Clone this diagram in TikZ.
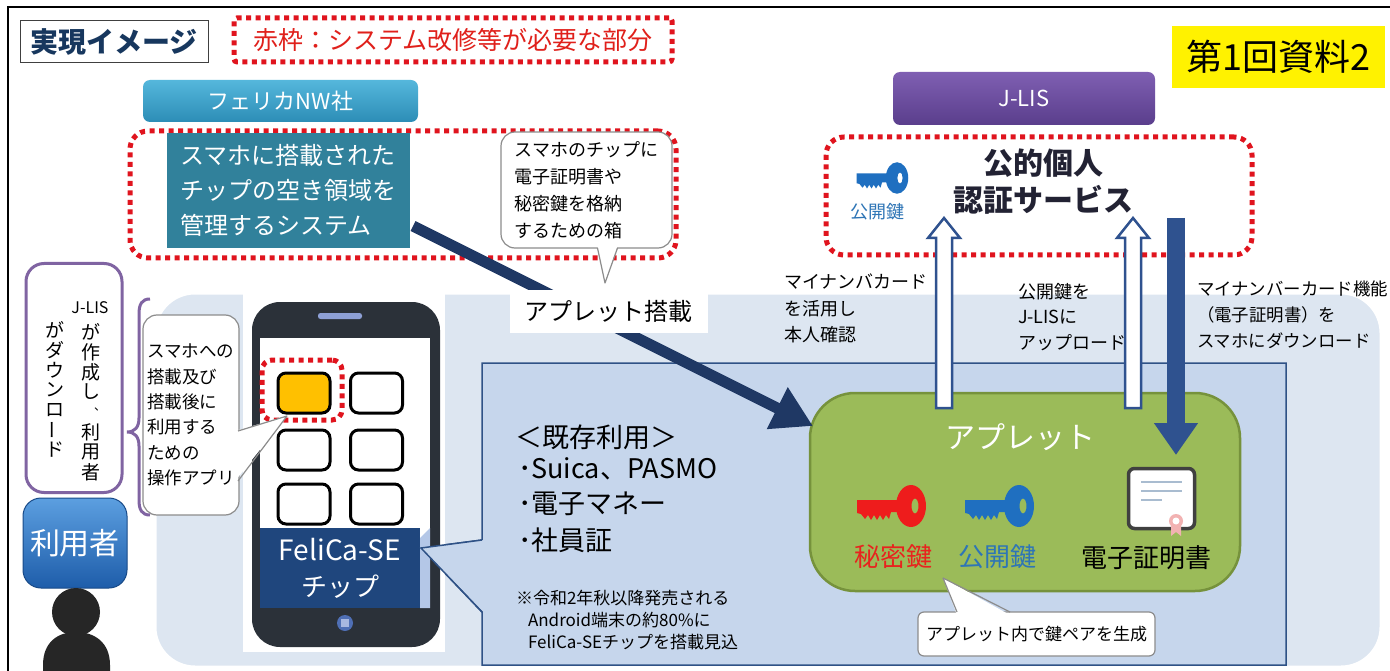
\documentclass[tikz,border=0pt]{standalone}
\usepackage{fontspec}
\setmainfont{Noto Sans CJK JP}
\usetikzlibrary{arrows.meta,calc}

\definecolor{framenavy}{HTML}{17375E}
\definecolor{legendred}{HTML}{E0201B}
\definecolor{dotred}{HTML}{E0141E}
\definecolor{tealsys}{HTML}{31819B}
\definecolor{feliTop}{HTML}{55B7DC}
\definecolor{feliBot}{HTML}{2C8DB6}
\definecolor{jlisTop}{HTML}{7F5FB2}
\definecolor{jlisBot}{HTML}{5A3E8C}
\definecolor{userTop}{HTML}{5C9FE0}
\definecolor{userBot}{HTML}{1E5DAA}
\definecolor{lightarea}{HTML}{DDE6F1}
\definecolor{innerblue}{HTML}{C6D6EC}
\definecolor{innerline}{HTML}{2F5286}
\definecolor{appletgreen}{HTML}{9BBB59}
\definecolor{appletline}{HTML}{76923C}
\definecolor{arrownavy}{HTML}{1F3864}
\definecolor{arrowblue}{HTML}{2F528F}
\definecolor{phonebody}{HTML}{2B3139}
\definecolor{chipblue}{HTML}{1F467D}
\definecolor{chipstrip}{HTML}{B4C7E7}
\definecolor{keyred}{HTML}{EE1C1C}
\definecolor{keyblue}{HTML}{1F6FC0}
\definecolor{txtred}{HTML}{E8231E}
\definecolor{txtblue}{HTML}{2E75B6}
\definecolor{purpleline}{HTML}{8064A2}
\definecolor{calloutgray}{HTML}{8C8C8C}
\definecolor{certline}{HTML}{404040}
\definecolor{certrule}{HTML}{A9BCD0}
\definecolor{sealpink}{HTML}{F2B2B2}
\definecolor{darktxt}{HTML}{222233}
\definecolor{appyellow}{HTML}{FFC000}
\definecolor{speaker}{HTML}{8EA0D6}
\definecolor{homebtn}{HTML}{4F6FB5}
\definecolor{homeinner}{HTML}{A8B8E0}
\definecolor{silhouette}{HTML}{262626}

\newcommand\fsz[2]{\fontsize{#1}{#2}\selectfont}

\tikzset{
  txt/.style={inner sep=0pt, outer sep=0pt, align=left, text=black},
  box/.style={inner sep=0pt, outer sep=0pt},
  reddot/.style={draw=dotred, line width=5pt, dash pattern=on 5pt off 4.5pt, rounded corners=18pt},
  callout/.style={draw=calloutgray, line width=1.2pt, fill=white, rounded corners=14pt, inner sep=0pt, outer sep=0pt},
  calloutline/.style={draw=calloutgray, line width=1.2pt, line join=round},
  appicon/.style={draw=black, line width=3pt, fill=white, rounded corners=8pt, minimum width=52pt, minimum height=40pt, inner sep=0pt},
  vch/.style={inner sep=0pt, font=\fsz{19}{19}},
  hollowarrow/.style={fill=white, draw=arrowblue, line width=2.5pt, line join=miter},
  pics/keyicon/.style={code={
    \fill[#1] (-54,-6) -- (-8,-6) -- (-8,6) -- (-20,6) -- (-22,13) -- (-25,9) -- (-28,14)
      -- (-31,9) -- (-34,14) -- (-37,9) -- (-40,14) -- (-43,9) -- (-46,13) -- (-50,8) -- (-54,7) -- cycle;
    \fill[#1, even odd rule] (0,0) ellipse [x radius=15, y radius=21]
      (4,0) ellipse [x radius=3.5, y radius=7.5];
  }}
}

\begin{document}
\begin{tikzpicture}[x=1pt,y=-1pt]
\useasboundingbox (0,0) rectangle (1390,671);
\fill[white] (0,0) rectangle (1390,671);
\draw[line width=2.5pt] (8,7) rectangle (1400,700);

% ---------- header ----------
\node[box, draw=black!75, line width=1pt, fill=white, minimum width=188pt, minimum height=42pt,
      font=\fsz{28}{30}\bfseries, text=framenavy] (title) at (114,42) {実現イメージ};
\node[box, reddot, rounded corners=3pt, minimum width=438pt, minimum height=44pt,
      font=\fsz{25}{28}, text=legendred] (legend) at (453,40) {赤枠：システム改修等が必要な部分};
\node[box, fill=yellow, minimum width=213pt, minimum height=62pt, font=\fsz{36}{40}] (docref)
      at (1278.5,57) {第1回資料2};

% ---------- organisations ----------
\node[box, rounded corners=7pt, top color=feliTop, bottom color=feliBot, minimum width=275pt,
      minimum height=42pt, text=white, font=\fsz{22}{24}] (feli) at (280.5,101) {フェリカNW社};
\node[box, rounded corners=7pt, top color=jlisTop, bottom color=jlisBot, minimum width=262pt,
      minimum height=53pt, text=white, font=\fsz{22}{24}] (jlis) at (1024,98.5) {J-LIS};

% ---------- user side areas ----------
\node[box, draw=white, line width=3pt, fill=lightarea, rounded corners=40pt,
      minimum width=1226pt, minimum height=374pt] (userarea) at (768,480) {};
\filldraw[fill=innerblue, draw=innerline, line width=1.5pt]
  (482,363) -- (1286,363) -- (1286,665) -- (482,665) -- (482,612) -- (421,548) -- (482,540) -- cycle;

% ---------- FeliCa network system ----------
\node[box, reddot, minimum width=546pt, minimum height=127pt] (fnwframe) at (403,194.5) {};
\node[box, fill=tealsys, minimum width=243pt, minimum height=115pt, text=white, align=left,
      font=\fsz{24}{35}] (teal) at (288.5,190.5) {スマホに搭載された\\チップの空き領域を\\管理するシステム};
\node[callout, minimum width=171pt, minimum height=116pt, align=left, font=\fsz{18}{27}] (boxnote)
      at (586.5,190) {スマホのチップに\\電子証明書や\\秘密鍵を格納\\するための箱};
\fill[white] (597.5,246) -- (605,283) -- (617.5,246) -- cycle;
\draw[calloutline] (597.5,248) -- (605,283) -- (617.5,248);

% ---------- J-LIS service ----------
\node[box, reddot, minimum width=426pt, minimum height=118pt] (jpkiframe) at (1039,196) {};
\node[txt, align=center, font=\fsz{30}{37}\bfseries, text=darktxt] (jpki) at (1043,181.5) {公的個人\\認証サービス};
\pic[scale=0.75] at (897,178) {keyicon=keyblue};
\node[txt, font=\fsz{18}{20}, text=txtblue] (pubkeyjlis) at (877,212) {公開鍵};

% ---------- applet ----------
\node[box, fill=appletgreen, draw=appletline, line width=2.5pt, rounded corners=45pt,
      minimum width=430pt, minimum height=198pt] (applet) at (1025,492) {};
\node[txt, text=white, font=\fsz{30}{32}] (applettitle) at (1020,437) {アプレット};
\pic at (911,506) {keyicon=keyred};
\pic at (1019,506) {keyicon=keyblue};
\node[txt, text=txtred, font=\fsz{26}{28}] (privlabel) at (893,557) {秘密鍵};
\node[txt, text=txtblue, font=\fsz{26}{28}] (publabel) at (997,557) {公開鍵};
\node[box, draw=certline, line width=3.5pt, fill=white, rounded corners=6pt,
      minimum width=66pt, minimum height=60pt] (cert) at (1161.5,498.5) {};
\draw[certrule, line width=2.5pt] (1141,482) -- (1182,482) (1141,491) -- (1182,491) (1141,500) -- (1162,500);
\fill[sealpink] (1171,526) -- (1171,536) -- (1176,532) -- (1181,536) -- (1181,526) -- cycle;
\fill[sealpink] (1176,521) circle (7);
\fill[white] (1176,521) circle (3.5);
\node[txt, font=\fsz{26}{28}] (certlabel) at (1146,558) {電子証明書};

\node[callout, rounded corners=6pt, minimum width=237pt, minimum height=44pt, font=\fsz{17}{20}] (keygen)
      at (1036.5,634) {アプレット内で鍵ペアを生成};
\fill[white] (957,615) -- (943,578) -- (1010,615) -- cycle;
\draw[calloutline] (957,612) -- (943,578) -- (1010,612);

% ---------- arrows ----------
\draw[arrownavy, line width=11pt, -{Triangle[length=40pt,width=44pt]}]
  ($(teal.south east)+(3,-22)$) -- ($(applet.north west)+(3,33)$);
\node[box, fill=white, minimum width=198pt, minimum height=43pt, text width=198pt, align=left,
      font=\fsz{24}{26}] (loadlabel) at (609,311.5) {\hspace*{14pt}アプレット搭載};

\filldraw[hollowarrow] (936,408) -- (936,238) -- (928,238) -- (944,218) -- (960,238) -- (952,238) -- (952,408) -- cycle;
\filldraw[hollowarrow] (1125,408) -- (1125,238) -- (1117,238) -- (1133,218) -- (1149,238) -- (1141,238) -- (1141,408) -- cycle;
\draw[arrowblue, line width=18pt, -{Triangle[length=32pt,width=42pt]}] (1176,218) -- (1176,455);

\node[txt, anchor=north west, font=\fsz{18}{26.5}] (mynacheck) at (784,274) {マイナンバカード\\を活用し\\本人確認};
\node[txt, anchor=north west, font=\fsz{18}{25.5}] (pubupload) at (1018,283) {公開鍵を\\J-LISに\\アップロード};
\node[txt, anchor=north west, font=\fsz{17.4}{26}] (certdl) at (1197,281) {マイナンバーカード機能\\（電子証明書）を\\スマホにダウンロード};

% ---------- existing uses ----------
\node[txt, anchor=west, font=\fsz{27}{30}] (existing) at (515,437) {＜既存利用＞};
\node[txt, anchor=west, font=\fsz{27}{30}] (use1) at (518,469) {･Suica、PASMO};
\node[txt, anchor=west, font=\fsz{27}{30}] (use2) at (518,504) {･電子マネー};
\node[txt, anchor=west, font=\fsz{27}{30}] (use3) at (518,540) {･社員証};
\node[txt, anchor=west, font=\fsz{17}{20}] (note1) at (516,598) {※令和2年秋以降発売される};
\node[txt, anchor=west, font=\fsz{17}{20}] (note2) at (528,620) {Android端末の約80\%に};
\node[txt, anchor=west, font=\fsz{17}{20}] (note3) at (528,642) {FeliCa-SEチップを搭載見込};

% ---------- smartphone ----------
\fill[white] (243,292) rectangle (445,652);
\node[box, fill=phonebody, rounded corners=28pt, minimum width=188pt, minimum height=345pt] (phone) at (346,474.5) {};
\fill[white] (260,338) rectangle (430,608);
\fill[speaker, rounded corners=2.5pt] (318,313) rectangle (362,319);
\fill[homebtn] (345,623) circle (8);
\fill[homeinner] (341,619) rectangle (349,627);
\node[appicon, fill=appyellow] (app1) at (304,393) {};
\node[appicon] (app2) at (376.5,393) {};
\node[appicon] (app3) at (304,450) {};
\node[appicon] (app4) at (376.5,450) {};
\node[appicon] (app5) at (304,504) {};
\node[appicon] (app6) at (376.5,504) {};
\node[box, reddot, rounded corners=10pt, minimum width=80pt, minimum height=60pt] (appframe) at (302,390) {};
\fill[chipstrip] (420,538) -- (430,528) -- (430,608) -- (420,608) -- cycle;
\node[box, fill=chipblue, minimum width=160pt, minimum height=80pt, text=white, align=center,
      font=\fsz{28}{36}] (chip) at (340,568) {FeliCa-SE\\\fsz{26}{36}チップ};

% speech tail of the existing-use panel, lying over the phone bezel
\fill[innerblue] (484,540) -- (421,548) -- (484,612) -- cycle;
\draw[innerline, line width=1.5pt, line join=miter] (482,540) -- (421,548) -- (482,612);

% ---------- operation app note ----------
\node[callout, minimum width=96pt, minimum height=200pt, align=left, font=\fsz{17.5}{25.4}] (appnote)
      at (191,415) {スマホへの\\搭載及び\\搭載後に\\利用する\\ための\\操作アプリ};
\fill[white] (235,431) -- (287,416) -- (235,481) -- cycle;
\draw[calloutline] (238,431) -- (287,416) -- (238,481);

% ---------- J-LIS download note (vertical) ----------
\node[box, draw=purpleline, line width=3pt, fill=white, rounded corners=18pt,
      minimum width=96pt, minimum height=229pt] (dlnote) at (74,378) {};
\node[inner sep=0pt, font=\fsz{16}{16}] (jlisv) at (90,308) {J-LIS};
\foreach \ch [count=\i] in {が,作,成,し}
  \node[vch] at (91,312+20*\i) {\ch};
\node[inner sep=0pt, font=\fsz{12}{12}] (vcomma) at (100,409) {、};
\foreach \ch [count=\i] in {利,用,者}
  \node[vch] at (91,412+20*\i) {\ch};
\foreach \ch [count=\i] in {が,ダ,ウ,ン,ロ}
  \node[vch] at (55,310+20*\i) {\ch};
\node[vch, rotate=90] at (55,430) {ー};
\node[vch] at (55,450) {ド};

\draw[purpleline, line width=3pt]
  (150,299) .. controls (142,299) and (139,304) .. (139,314) -- (139,418)
  .. controls (139,427) and (135,432) .. (127,432)
  .. controls (135,432) and (139,437) .. (139,446) -- (139,500)
  .. controls (139,510) and (142,515) .. (150,515);

% ---------- user ----------
\node[box, rounded corners=18pt, top color=userTop, bottom color=userBot, draw=userBot!80!black,
      line width=1pt, minimum width=104pt, minimum height=90pt, text=white, font=\fsz{30}{32}] (user)
      at (75,543) {利用者};
\fill[silhouette] (76,612) circle (24);
\fill[silhouette] (43,690) -- (43,665) .. controls (43,642) and (58,632) .. (76,632)
  .. controls (94,632) and (110,642) .. (110,665) -- (110,690) -- cycle;
\end{tikzpicture}
\end{document}
